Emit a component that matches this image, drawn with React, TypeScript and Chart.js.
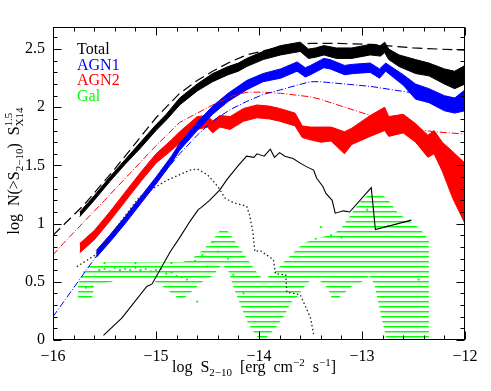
import React, { useEffect, useRef } from 'react';
import { Chart, registerables } from 'chart.js';

Chart.register(...registerables);

const FONT = "'Liberation Serif', 'DejaVu Serif', serif";

// ---------- axes ----------
const X_MIN = -16;
const X_MAX = -12;
const Y_MIN = 0;
const Y_MAX = 2.69;
const X_TICKS = [-16, -15, -14, -13, -12];
const Y_TICKS = [0, 0.5, 1, 1.5, 2, 2.5];
const LEGEND_LABELS = ['Total', 'AGN1', 'AGN2', 'Gal'];
const LEGEND_COLORS = ['#000000', '#0000ff', '#ff0000', '#00ff00'];

// ---------- Total (black band) ----------
const totalX = [-15.74, -15.6, -15.45, -15.3, -15.15, -15.0, -14.9, -14.77, -14.6, -14.45, -14.3, -14.2, -14.12, -13.96, -13.79, -13.6, -13.52, -13.45, -13.37, -13.25, -13.1, -12.92, -12.82, -12.78, -12.74, -12.64, -12.48, -12.35, -12.2, -12.1, -12.0];
const totalLo = [1.06, 1.20, 1.36, 1.51, 1.65, 1.80, 1.89, 2.02, 2.14, 2.22, 2.28, 2.31, 2.35, 2.41, 2.45, 2.48, 2.42, 2.43, 2.45, 2.42, 2.42, 2.45, 2.44, 2.47, 2.41, 2.35, 2.29, 2.27, 2.20, 2.16, 2.20];
const totalHi = [1.10, 1.24, 1.40, 1.55, 1.70, 1.85, 1.94, 2.08, 2.20, 2.29, 2.35, 2.38, 2.42, 2.48, 2.53, 2.56, 2.50, 2.51, 2.53, 2.51, 2.51, 2.54, 2.53, 2.56, 2.50, 2.45, 2.41, 2.38, 2.33, 2.31, 2.36];

// ---------- AGN1 (blue band) ----------
const agn1X = [-15.58, -15.45, -15.3, -15.15, -15.0, -14.85, -14.77, -14.6, -14.45, -14.3, -14.12, -13.96, -13.79, -13.63, -13.55, -13.5, -13.37, -13.31, -13.17, -13.08, -12.92, -12.83, -12.77, -12.6, -12.48, -12.35, -12.2, -12.1, -12.0];
const agn1Lo = [0.71, 0.84, 1.00, 1.17, 1.34, 1.52, 1.63, 1.80, 1.94, 2.05, 2.15, 2.22, 2.25, 2.31, 2.26, 2.28, 2.34, 2.33, 2.28, 2.29, 2.30, 2.25, 2.31, 2.19, 2.07, 2.04, 1.97, 1.95, 1.97];
const agn1Hi = [0.77, 0.90, 1.06, 1.23, 1.40, 1.58, 1.69, 1.87, 2.01, 2.12, 2.23, 2.29, 2.33, 2.39, 2.34, 2.36, 2.42, 2.41, 2.36, 2.37, 2.38, 2.33, 2.38, 2.28, 2.20, 2.16, 2.10, 2.08, 2.15];

// ---------- AGN2 (red band) ----------
const agn2X = [-15.74, -15.6, -15.45, -15.3, -15.15, -15.0, -14.85, -14.77, -14.6, -14.5, -14.45, -14.38, -14.28, -14.15, -14.02, -13.9, -13.8, -13.65, -13.58, -13.5, -13.4, -13.3, -13.17, -13.1, -12.92, -12.78, -12.74, -12.6, -12.48, -12.36, -12.3, -12.22, -12.12, -12.0];
const agn2Lo = [0.75, 0.86, 1.02, 1.19, 1.36, 1.52, 1.63, 1.69, 1.81, 1.83, 1.78, 1.83, 1.81, 1.88, 1.91, 1.90, 1.88, 1.84, 1.74, 1.72, 1.70, 1.71, 1.60, 1.68, 1.75, 1.80, 1.75, 1.78, 1.70, 1.57, 1.60, 1.45, 1.22, 1.00];
const agn2Hi = [0.83, 0.94, 1.10, 1.27, 1.44, 1.60, 1.72, 1.79, 1.92, 1.93, 1.88, 1.93, 1.92, 1.99, 2.02, 2.01, 1.99, 1.95, 1.84, 1.83, 1.83, 1.83, 1.79, 1.82, 1.93, 2.00, 1.92, 1.94, 1.86, 1.76, 1.80, 1.70, 1.62, 1.52];

// ---------- Gal (green hatched band) ----------
const galX = [-15.76, -15.7, -15.62, -15.6, -15.43, -15.35, -15.06, -14.95, -14.8, -14.74, -14.65, -14.55, -14.45, -14.38, -14.35, -14.3, -14.25, -14.18, -14.1, -14.02, -13.96, -13.93, -13.84, -13.76, -13.68, -13.62, -13.55, -13.47, -13.4, -13.33, -13.28, -13.2, -13.1, -13.0, -12.93, -12.88, -12.85, -12.8, -12.76, -12.65, -12.44, -12.35];
const galHi = [0.47, 0.60, 0.65, 0.66, 0.67, 0.67, 0.67, 0.67, 0.67, 0.67, 0.70, 0.77, 0.86, 0.94, 0.97, 0.93, 0.87, 0.78, 0.68, 0.58, 0.52, 0.53, 0.59, 0.67, 0.74, 0.79, 0.84, 0.86, 0.88, 0.90, 0.91, 0.96, 1.09, 1.21, 1.25, 1.26, 1.25, 1.24, 1.22, 1.09, 0.96, 0.86];
const galLo = [0.36, 0.36, 0.36, 0.47, 0.50, 0.53, 0.53, 0.47, 0.37, 0.35, 0.42, 0.50, 0.55, 0.63, 0.64, 0.60, 0.46, 0.30, 0.13, 0.03, 0.00, 0.02, 0.10, 0.20, 0.33, 0.38, 0.47, 0.54, 0.50, 0.44, 0.33, 0.38, 0.46, 0.50, 0.55, 0.48, 0.35, 0.15, 0.00, 0.00, 0.00, 0.00];
const galDotX = [-15.68, -15.62, -15.55, -15.5, -15.45, -15.4, -15.35, -15.3, -15.25, -15.2, -15.15, -15.1, -15.05, -15.0, -14.95, -14.9, -14.85, -14.8, -14.75, -14.7, -15.5, -15.2, -14.85, -14.62, -14.55, -14.5, -14.45, -14.4, -14.3, -14.25, -14.15, -14.6, -13.45, -13.4, -13.3, -13.2, -12.95, -12.75, -12.45];
const galDotY = [0.45, 0.46, 0.60, 0.61, 0.59, 0.62, 0.60, 0.61, 0.60, 0.62, 0.60, 0.61, 0.59, 0.60, 0.61, 0.57, 0.58, 0.55, 0.54, 0.52, 0.66, 0.66, 0.66, 0.68, 0.73, 0.63, 0.84, 0.76, 0.70, 0.56, 0.40, 0.33, 0.87, 0.97, 0.90, 0.88, 1.12, 0.98, 0.52];

// ---------- model lines ----------
const totModelX = [-16, -15.7, -15.4, -15.2, -15.0, -14.77, -14.6, -14.45, -14.28, -14.12, -13.79, -13.5, -13.3, -12.9, -12.5, -12.0];
const totModelY = [0.90, 1.16, 1.47, 1.69, 1.91, 2.12, 2.23, 2.31, 2.39, 2.45, 2.52, 2.55, 2.55, 2.54, 2.51, 2.49];
const agn1ModelX = [-16, -15.58, -15.2, -14.77, -14.6, -14.45, -14.28, -14.12, -13.96, -13.79, -13.63, -13.5, -13.41, -12.92, -12.48, -12.0];
const agn1ModelY = [0.20, 0.72, 1.14, 1.60, 1.76, 1.88, 1.98, 2.05, 2.11, 2.15, 2.19, 2.22, 2.22, 2.18, 2.12, 2.07];
const agn2ModelX = [-16, -15.9, -15.5, -15.0, -14.77, -14.45, -14.25, -14.12, -13.96, -13.79, -13.5, -13.41, -12.92, -12.64, -12.3, -12.0];
const agn2ModelY = [0.73, 0.83, 1.20, 1.67, 1.87, 2.02, 2.10, 2.13, 2.13, 2.12, 2.09, 2.07, 1.93, 1.83, 1.79, 1.77];
const dottedX = [-15.77, -15.59, -15.4, -15.16, -14.9, -14.67, -14.6, -14.5, -14.4, -14.33, -14.25, -14.12, -14.09, -14.06, -14.04, -13.99, -13.86, -13.84, -13.74, -13.73, -13.6, -13.5, -13.47];
const dottedY = [0.63, 0.73, 0.95, 1.23, 1.37, 1.46, 1.47, 1.42, 1.32, 1.22, 1.18, 1.15, 1.07, 0.93, 0.76, 0.77, 0.69, 0.57, 0.56, 0.41, 0.39, 0.19, 0.05];
const solidX = [-15.51, -15.33, -15.09, -15.04, -14.86, -14.77, -14.67, -14.59, -14.56, -14.48, -14.38, -14.31, -14.2, -14.12, -14.05, -14.02, -13.95, -13.89, -13.85, -13.8, -13.75, -13.67, -13.6, -13.54, -13.47, -13.44, -13.38, -13.35, -13.29, -13.26, -13.18, -13.12, -12.91, -12.87, -12.52];
const solidY = [0.04, 0.19, 0.46, 0.48, 0.76, 0.88, 1.02, 1.12, 1.14, 1.20, 1.29, 1.38, 1.50, 1.58, 1.57, 1.60, 1.58, 1.64, 1.57, 1.61, 1.58, 1.56, 1.52, 1.49, 1.46, 1.39, 1.32, 1.26, 1.20, 1.09, 1.11, 1.10, 1.31, 0.95, 1.03];

const pts = (xs: number[], ys: number[]) => xs.map((x, i) => ({ x, y: ys[i] }));
const fmt = (v: number) => (v < 0 ? '\u2212' + Math.abs(v) : String(v));

type Part = { t: string; size: number; dy?: number; overlay?: boolean };

function partsWidth(ctx: CanvasRenderingContext2D, parts: Part[]) {
  let cur = 0, prevStart = 0, prevW = 0;
  for (const p of parts) {
    ctx.font = `${p.size}px ${FONT}`;
    const w = ctx.measureText(p.t).width;
    if (p.overlay) { cur = prevStart + Math.max(prevW, w); }
    else { prevStart = cur; prevW = w; cur += w; }
  }
  return cur;
}

function drawParts(ctx: CanvasRenderingContext2D, parts: Part[], startX: number, baseY: number) {
  let cur = startX, prevStart = startX, prevW = 0;
  ctx.textBaseline = 'alphabetic';
  ctx.textAlign = 'left';
  for (const p of parts) {
    ctx.font = `${p.size}px ${FONT}`;
    const w = ctx.measureText(p.t).width;
    if (p.overlay) {
      ctx.fillText(p.t, prevStart, baseY + (p.dy || 0));
      cur = prevStart + Math.max(prevW, w);
    } else {
      ctx.fillText(p.t, cur, baseY + (p.dy || 0));
      prevStart = cur; prevW = w; cur += w;
    }
  }
}

const X_TITLE: Part[] = [
  { t: 'log  S', size: 16 },
  { t: '2\u221210', size: 11, dy: 4 },
  { t: '  [erg  cm', size: 16 },
  { t: '\u22122', size: 11, dy: -6 },
  { t: '  s', size: 16 },
  { t: '\u22121', size: 11, dy: -6 },
  { t: ']', size: 16 },
];
const Y_TITLE: Part[] = [
  { t: 'log  N(>S', size: 16 },
  { t: '2\u221210', size: 11, dy: 4 },
  { t: ')  S', size: 16 },
  { t: '1.5', size: 11, dy: -7 },
  { t: 'X14', size: 11, dy: 4, overlay: true },
];

const decorPlugin = {
  id: 'decor',
  afterDraw(chart: any) {
    const { ctx, chartArea: a, scales } = chart;
    const xs = scales.x, ys = scales.y;
    ctx.save();
    ctx.strokeStyle = '#000';
    ctx.lineWidth = 1;
    const L = Math.round(a.left) + 0.5, R = Math.round(a.right) - 0.5;
    const T = Math.round(a.top) + 0.5, B = Math.round(a.bottom) - 0.5;
    ctx.strokeRect(L, T, R - L, B - T);
    ctx.beginPath();
    for (let i = 0; i <= 20; i++) {
      const v = X_MIN + i * 0.2;
      const px = Math.round(xs.getPixelForValue(v)) + 0.5;
      const len = i % 5 === 0 ? 8 : 4;
      ctx.moveTo(px, B); ctx.lineTo(px, B - len);
      ctx.moveTo(px, T); ctx.lineTo(px, T + len);
    }
    for (let i = 0; i <= 26; i++) {
      const v = i * 0.1;
      const py = Math.round(ys.getPixelForValue(v)) + 0.5;
      const len = i % 5 === 0 ? 8 : 4;
      ctx.moveTo(L, py); ctx.lineTo(L + len, py);
      ctx.moveTo(R, py); ctx.lineTo(R - len, py);
    }
    ctx.stroke();

    // legend labels
    ctx.font = `16px ${FONT}`;
    ctx.textAlign = 'left';
    ctx.textBaseline = 'alphabetic';
    LEGEND_LABELS.forEach((lab, i) => {
      ctx.fillStyle = LEGEND_COLORS[i];
      ctx.fillText(lab, 77, 54 + i * 15.5);
    });

    // axis titles
    ctx.fillStyle = '#000';
    const xw = partsWidth(ctx, X_TITLE);
    drawParts(ctx, X_TITLE, 254 - xw / 2, 372);
    const yw = partsWidth(ctx, Y_TITLE);
    ctx.translate(19, 171);
    ctx.rotate(-Math.PI / 2);
    drawParts(ctx, Y_TITLE, -yw / 2, 0);
    ctx.restore();
  },
};

export default function App() {
  const ref = useRef<HTMLCanvasElement>(null);
  useEffect(() => {
    const canvas = ref.current!;
    const pc = document.createElement('canvas');
    pc.width = 4; pc.height = 5;
    const pctx = pc.getContext('2d')!;
    pctx.fillStyle = '#00ff00';
    pctx.fillRect(0, 1, 4, 1);
    pctx.fillStyle = 'rgba(0,255,0,0.45)';
    pctx.fillRect(0, 2, 4, 1);
    const pattern = canvas.getContext('2d')!.createPattern(pc, 'repeat')!;

    const base = { pointRadius: 0, tension: 0, fill: false };
    const chart = new Chart(canvas, {
      type: 'line',
      data: {
        datasets: [
          // 0,1 Gal hatched band
          { ...base, data: pts(galX, galLo), borderWidth: 0, borderColor: 'rgba(0,0,0,0)', order: 20 },
          { ...base, data: pts(galX, galHi), borderWidth: 0, borderColor: 'rgba(0,0,0,0)', fill: '-1', backgroundColor: pattern, order: 19 },
          // 2,3 AGN2 band
          { ...base, data: pts(agn2X, agn2Lo), borderWidth: 1, borderColor: '#ff0000', order: 16 },
          { ...base, data: pts(agn2X, agn2Hi), borderWidth: 1, borderColor: '#ff0000', fill: '-1', backgroundColor: '#ff0000', order: 15 },
          // 4,5 AGN1 band
          { ...base, data: pts(agn1X, agn1Lo), borderWidth: 1, borderColor: '#0000ff', order: 14 },
          { ...base, data: pts(agn1X, agn1Hi), borderWidth: 1, borderColor: '#0000ff', fill: '-1', backgroundColor: '#0000ff', order: 13 },
          // 6,7 Total band
          { ...base, data: pts(totalX, totalLo), borderWidth: 1, borderColor: '#000000', order: 12 },
          { ...base, data: pts(totalX, totalHi), borderWidth: 1, borderColor: '#000000', fill: '-1', backgroundColor: '#000000', order: 11 },
          // galaxy points
          { type: 'scatter', data: pts(galDotX, galDotY), pointRadius: 1.1, pointBackgroundColor: '#00ff00', pointBorderWidth: 0, showLine: false, order: 9 } as any,
          // models
          { ...base, data: pts(agn2ModelX, agn2ModelY), borderWidth: 1, borderColor: '#ff0000', borderDash: [7, 2, 1, 2], order: 5 },
          { ...base, data: pts(agn1ModelX, agn1ModelY), borderWidth: 1, borderColor: '#0000ff', borderDash: [7, 2, 1, 2], order: 4 },
          { ...base, data: pts(totModelX, totModelY), borderWidth: 1.2, borderColor: '#000000', borderDash: [10, 5], order: 3 },
          { ...base, data: pts(dottedX, dottedY), borderWidth: 1.3, borderColor: '#222222', borderDash: [1.5, 2.5], order: 2 },
          { ...base, data: pts(solidX, solidY), borderWidth: 1.1, borderColor: '#000000', order: 1 },
        ] as any,
      },
      options: {
        animation: false,
        responsive: false,
        devicePixelRatio: 1,
        layout: { padding: { top: 27, right: 26, left: 0, bottom: 0 } },
        plugins: { legend: { display: false }, tooltip: { enabled: false } },
        scales: {
          x: {
            type: 'linear', min: X_MIN, max: X_MAX,
            grid: { display: false, drawTicks: false },
            border: { display: false },
            afterBuildTicks: (s: any) => { s.ticks = X_TICKS.map((v) => ({ value: v })); },
            afterFit: (s: any) => { s.height = 51; },
            ticks: { color: '#000', font: { family: FONT, size: 16 }, padding: 7, maxRotation: 0, callback: (v: any) => fmt(Number(v)) },
          },
          y: {
            type: 'linear', min: Y_MIN, max: Y_MAX,
            grid: { display: false, drawTicks: false },
            border: { display: false },
            afterBuildTicks: (s: any) => { s.ticks = Y_TICKS.map((v) => ({ value: v })); },
            afterFit: (s: any) => { s.width = 53; },
            ticks: { color: '#000', font: { family: FONT, size: 16 }, padding: 8, callback: (v: any) => fmt(Number(v)) },
          },
        },
      } as any,
      plugins: [decorPlugin],
    });
    return () => chart.destroy();
  }, []);
  return (
    <div style={{ position: 'fixed', left: 0, top: 0, width: 491, height: 391, background: '#fff' }}>
      <canvas ref={ref} width={491} height={391} style={{ display: 'block', width: 491, height: 391 }} />
    </div>
  );
}
